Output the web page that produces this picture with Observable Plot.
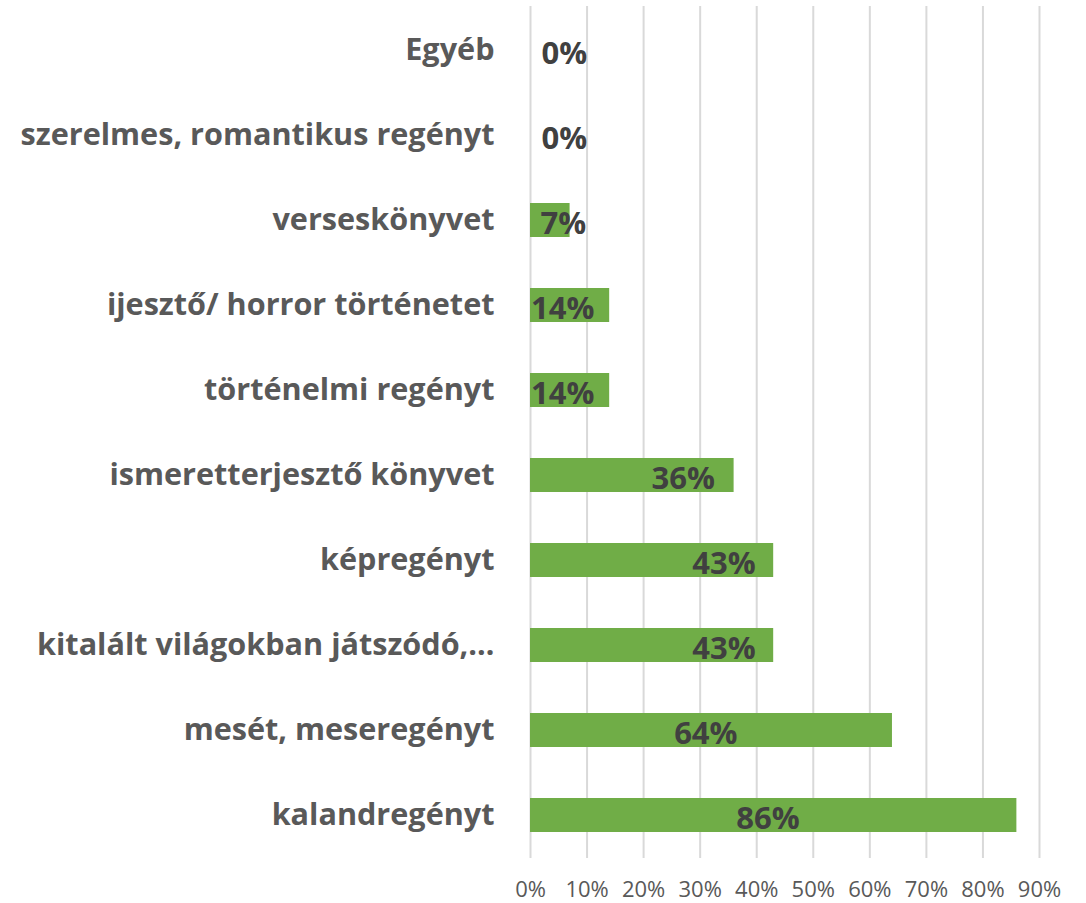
<!DOCTYPE html>
<html>
<head>
<meta charset="utf-8">
<script src="https://cdn.jsdelivr.net/npm/d3@7"></script>
<script src="https://cdn.jsdelivr.net/npm/@observablehq/plot@0.6"></script>
<style>
  html, body { margin: 0; padding: 0; background: #fff; }
  #chart { width: 1086px; height: 903px; }
</style>
</head>
<body>
<div id="chart"></div>
<script>
// Categories, top to bottom as shown
const categories = [
  "Egyéb",
  "szerelmes, romantikus regényt",
  "verseskönyvet",
  "ijesztő/ horror történetet",
  "történelmi regényt",
  "ismeretterjesztő könyvet",
  "képregényt",
  "kitalált világokban játszódó,…",
  "mesét, meseregényt",
  "kalandregényt"
];
// Share of respondents (%)
const values = [0, 0, 7, 14, 14, 36, 43, 43, 64, 86];
// Where each data label sits along the value axis (%)
const labelAt = [6, 6, 5.8, 5.7, 5.7, 27, 34.2, 34.2, 31, 42];
// Axis ticks
const xTicks = [0, 10, 20, 30, 40, 50, 60, 70, 80, 90];

const data = categories.map((c, i) => ({ category: c, value: values[i], at: labelAt[i] }));

const FONT = "'Open Sans', Lato, sans-serif";

const chart = Plot.plot({
  width: 1086,
  height: 903,
  marginLeft: 530,
  marginRight: 47,
  marginTop: 6,
  marginBottom: 45,
  style: { fontFamily: FONT, background: "#fff" },
  x: { domain: [0, 90], ticks: xTicks, label: null },
  y: { domain: categories, paddingInner: 0.6, paddingOuter: 0.3, label: null },
  marks: [
    Plot.gridX(xTicks, { stroke: "#d9d9d9", strokeOpacity: 1, strokeWidth: 2 }),
    Plot.barX(data, { x: "value", y: "category", fill: "#70ad47" }),
    Plot.text(data, {
      x: "at", y: "category", text: d => d.value + "%",
      fontSize: 31, fontWeight: "bold", fill: "#404040", dy: 4
    }),
    Plot.axisX(xTicks, {
      tickSize: 0, tickPadding: 23, fontSize: 22, fill: "#595959",
      tickFormat: d => d + "%", label: null
    }),
    Plot.axisY({
      tickSize: 0, tickPadding: 36, fontSize: 30.6, fontWeight: "bold",
      fill: "#595959", label: null
    })
  ]
});

document.getElementById("chart").appendChild(chart);
</script>
</body>
</html>
